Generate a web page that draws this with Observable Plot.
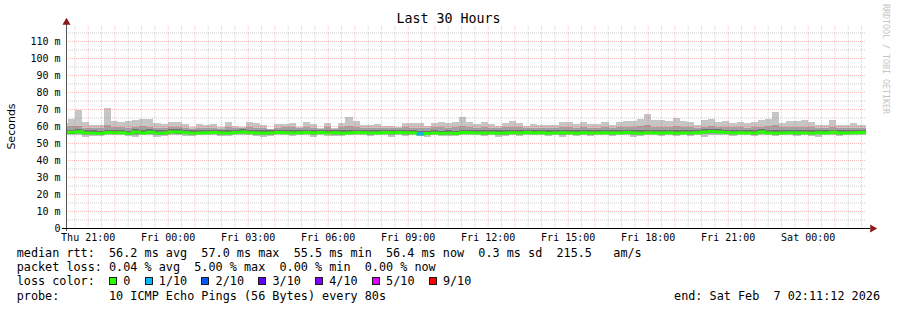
<!DOCTYPE html>
<html>
<head>
<meta charset="utf-8">
<script src="https://cdn.jsdelivr.net/npm/d3@7"></script>
<script src="https://cdn.jsdelivr.net/npm/@observablehq/plot@0.6"></script>
<style>
  html, body { margin: 0; padding: 0; background: #ffffff; }
  #wrap { position: relative; width: 897px; height: 310px; overflow: hidden; background: #ffffff;
          font-family: "DejaVu Sans Mono", monospace; color: #000; }
  #chart { position: absolute; left: 0; top: 0; }
  .abs { position: absolute; white-space: pre; }
  #title { left: 0; width: 897px; text-align: center; top: 12.3px; font-size: 13.3px; line-height: 13.3px; }
  #ylabel { font-family: "DejaVu Sans", sans-serif; font-size: 11px; line-height: 11px; width: 80px; text-align: center;
            left: -29px; top: 121px; transform: rotate(-90deg); }
  #mark { writing-mode: vertical-rl; font-size: 8.3px; line-height: 8.3px; color: #c4c4c4; left: 882px; top: 4px; }
  .leg { left: 16.7px; font-size: 11.8px; line-height: 11.8px; }
  .box { display: inline-block; box-sizing: border-box; width: 8px; height: 8px; border: 1px solid #1a1a1a;
         margin-right: calc(1ch - 8px); vertical-align: baseline; }
  #end { right: 17px; font-size: 11.8px; line-height: 11.8px; top: 290.6px; }
</style>
</head>
<body>
<div id="wrap">
  <div id="chart"></div>
  <div id="title" class="abs"></div>
  <div id="ylabel" class="abs"></div>
  <div id="mark" class="abs"></div>
  <div id="l1" class="abs leg" style="top:247.5px"></div>
  <div id="l2" class="abs leg" style="top:261.8px"></div>
  <div id="l3" class="abs leg" style="top:276px"></div>
  <div id="l4" class="abs leg" style="top:290.6px"></div>
  <div id="end" class="abs"></div>
</div>
<script>
// ---------------- data (ms), one value per 16-minute step, first step starts Thu 20:00 UTC ----------------
const titleText = "Last 30 Hours";
const yLabelText = "Seconds";
const watermark = "RRDTOOL / TOBI OETIKER";
const startTime = "2026-02-05T20:11:12Z";
const endTime = "2026-02-07T02:11:12Z";
const firstStep = "2026-02-05T20:00:00Z";
const stepMinutes = 16;

const maxRtt = [
  62.0, 64.1, 69.4, 62.2, 60.6, 60.6, 70.4, 62.9, 62.2, 62.9,
  63.3, 63.9, 63.9, 61.6, 61.2, 62.4, 62.4, 61.2, 59.2, 61.2,
  60.6, 61.2, 59.2, 62.2, 60.2, 59.6, 62.2, 61.6, 60.6, 58.0,
  61.2, 61.2, 62.0, 59.6, 62.5, 61.2, 58.6, 62.0, 58.6, 62.0,
  65.1, 63.1, 60.6, 60.4, 61.2, 60.0, 60.0, 59.6, 62.0, 61.6,
  62.0, 60.0, 62.0, 62.5, 61.6, 62.5, 65.5, 62.3, 61.2, 62.4,
  61.2, 60.0, 62.0, 63.0, 62.0, 60.0, 61.2, 60.6, 60.6, 60.6,
  62.4, 62.4, 61.2, 62.4, 61.2, 61.2, 62.4, 60.6, 62.4, 63.2,
  63.2, 64.1, 67.1, 63.5, 63.5, 63.2, 64.5, 63.2, 62.4, 60.6,
  63.5, 63.9, 62.5, 63.2, 62.0, 62.5, 61.6, 62.5, 63.5, 63.9,
  68.0, 62.0, 63.0, 63.2, 63.5, 62.5, 60.6, 60.6, 63.5, 60.6,
  60.6, 61.6, 60.6, 60.6
];
const upperRtt = [
  59.2, 59.8, 60.2, 59.0, 58.8, 58.6, 60.4, 59.4, 59.2, 59.0,
  59.6, 59.8, 59.5, 58.8, 59.0, 59.4, 59.2, 58.9, 58.4, 59.0,
  58.8, 59.1, 58.5, 59.3, 58.8, 58.7, 59.2, 59.0, 58.8, 58.0,
  59.0, 59.2, 59.3, 58.7, 59.4, 59.0, 58.4, 59.2, 58.4, 59.3,
  60.0, 59.6, 58.9, 58.8, 59.1, 58.8, 58.7, 58.6, 59.2, 59.1,
  59.0, 58.7, 59.2, 59.3, 59.0, 59.3, 60.0, 59.2, 59.0, 59.3,
  59.0, 58.7, 59.2, 59.4, 59.2, 58.8, 59.0, 58.9, 58.9, 58.8,
  59.3, 59.3, 59.0, 59.2, 59.0, 59.0, 59.3, 58.9, 59.2, 59.5,
  59.5, 59.8, 60.3, 59.5, 59.6, 59.5, 59.8, 59.5, 59.2, 58.8,
  59.6, 59.8, 59.4, 59.5, 59.2, 59.3, 59.0, 59.3, 59.6, 59.8,
  60.5, 59.2, 59.4, 59.5, 59.6, 59.3, 58.8, 58.8, 59.6, 58.8,
  58.8, 59.1, 58.8, 58.8
];
const innerHi = [
  57.9, 57.9, 58.3, 57.6, 57.4, 57.2, 57.9, 57.8, 57.7, 57.3,
  58.2, 57.6, 58.0, 57.4, 57.5, 58.1, 58.0, 57.7, 57.4, 57.6,
  57.7, 57.9, 57.5, 57.4, 57.8, 58.1, 57.7, 57.5, 57.4, 57.5,
  57.8, 57.7, 57.6, 57.7, 57.8, 57.6, 57.8, 57.5, 57.6, 57.4,
  57.8, 57.8, 57.7, 57.5, 57.6, 57.7, 57.6, 57.8, 57.7, 57.6,
  57.2, 57.3, 57.5, 57.2, 57.4, 57.3, 57.9, 57.7, 57.6, 57.5,
  57.6, 57.4, 57.6, 57.7, 57.5, 57.8, 57.6, 57.7, 57.4, 57.6,
  57.7, 57.6, 57.4, 57.7, 57.5, 57.6, 57.7, 57.5, 57.6, 57.8,
  57.6, 57.5, 57.8, 57.6, 57.5, 57.7, 57.5, 57.6, 57.5, 57.6,
  58.0, 58.4, 58.1, 57.8, 57.5, 57.7, 57.6, 57.5, 58.0, 57.6,
  57.5, 57.6, 57.7, 57.5, 57.6, 57.4, 57.6, 57.6, 57.9, 57.5,
  57.6, 57.7, 57.8, 57.8
];
const medianRtt = [
  56.6, 56.6, 56.9, 56.2, 56.0, 55.8, 56.4, 56.3, 56.3, 55.9,
  56.8, 56.2, 56.6, 56.0, 56.1, 56.7, 56.7, 56.3, 56.0, 56.2,
  56.3, 56.5, 56.1, 56.0, 56.4, 56.8, 56.3, 56.1, 56.0, 56.2,
  56.4, 56.3, 56.2, 56.3, 56.4, 56.2, 56.5, 56.1, 56.3, 56.0,
  56.2, 56.4, 56.3, 56.1, 56.2, 56.4, 56.3, 56.5, 56.3, 56.2,
  55.6, 55.9, 56.1, 55.8, 56.0, 55.9, 56.4, 56.3, 56.2, 56.1,
  56.2, 56.0, 56.2, 56.3, 56.1, 56.4, 56.2, 56.3, 56.0, 56.2,
  56.3, 56.2, 56.0, 56.3, 56.1, 56.2, 56.3, 56.1, 56.2, 56.4,
  56.2, 56.0, 56.3, 56.2, 56.1, 56.3, 56.0, 56.2, 56.1, 56.3,
  56.7, 57.0, 56.8, 56.4, 56.1, 56.3, 56.2, 56.1, 56.7, 56.2,
  56.0, 56.2, 56.3, 56.1, 56.2, 56.0, 56.3, 56.2, 56.6, 56.1,
  56.2, 56.3, 56.4, 56.4
];
const innerLo = [
  55.5, 55.4, 55.6, 55.2, 55.3, 55.1, 55.4, 55.4, 55.5, 55.2,
  55.3, 55.4, 55.5, 55.2, 55.3, 55.6, 55.5, 55.4, 55.3, 55.4,
  55.4, 55.5, 55.3, 55.3, 55.5, 55.6, 55.4, 55.3, 55.2, 55.3,
  55.4, 55.5, 55.3, 55.5, 55.4, 55.3, 55.5, 55.4, 55.2, 55.3,
  55.4, 55.5, 55.4, 55.3, 55.4, 55.5, 55.2, 55.5, 55.3, 55.4,
  55.0, 55.2, 55.4, 55.2, 55.3, 55.2, 55.5, 55.4, 55.4, 55.3,
  55.4, 55.2, 55.3, 55.5, 55.3, 55.4, 55.4, 55.5, 55.2, 55.4,
  55.3, 55.4, 55.3, 55.5, 55.3, 55.4, 55.5, 55.3, 55.4, 55.5,
  55.3, 55.3, 55.4, 55.4, 55.3, 55.4, 55.2, 55.4, 55.3, 55.4,
  55.6, 55.8, 55.6, 55.4, 55.3, 55.4, 55.4, 55.3, 55.6, 55.4,
  55.3, 55.4, 55.5, 55.3, 55.4, 55.2, 55.4, 55.4, 55.6, 55.3,
  55.4, 55.4, 55.5, 55.5
];
const lowerRtt = [
  55.1, 55.0, 55.2, 54.8, 55.0, 54.9, 55.0, 55.1, 55.0, 54.9,
  54.8, 55.0, 55.1, 54.8, 54.9, 55.2, 55.1, 55.0, 54.9, 55.0,
  55.0, 55.1, 54.9, 55.0, 55.1, 55.2, 55.0, 54.9, 54.8, 54.9,
  55.0, 55.1, 55.0, 55.1, 55.0, 54.9, 55.1, 55.0, 54.8, 54.9,
  55.0, 55.1, 55.0, 54.9, 55.0, 55.1, 54.8, 55.1, 54.9, 55.0,
  54.6, 54.8, 55.0, 54.8, 54.9, 54.8, 55.1, 55.0, 55.0, 54.9,
  55.0, 54.8, 54.9, 55.1, 54.9, 55.0, 55.0, 55.1, 54.8, 55.0,
  54.9, 55.0, 54.9, 55.1, 54.9, 55.0, 55.1, 54.9, 55.0, 55.1,
  54.9, 54.9, 55.0, 55.0, 54.9, 55.0, 54.8, 55.0, 54.9, 55.0,
  55.0, 55.3, 55.2, 55.0, 54.9, 55.0, 55.0, 54.9, 55.2, 55.0,
  54.9, 55.0, 55.1, 54.9, 55.0, 54.8, 55.0, 55.0, 55.2, 54.9,
  55.0, 55.0, 55.1, 55.1
];
const minRtt = [
  54.6, 54.5, 54.7, 53.6, 54.4, 54.3, 54.5, 54.6, 54.5, 54.2,
  53.7, 54.5, 54.6, 53.8, 54.4, 54.6, 54.5, 54.4, 54.3, 54.5,
  54.5, 54.6, 54.3, 54.4, 54.6, 54.7, 54.5, 54.3, 53.7, 54.3,
  54.5, 54.6, 54.4, 54.6, 54.5, 53.8, 54.6, 54.4, 54.2, 54.3,
  54.5, 54.6, 54.5, 54.3, 54.5, 54.6, 53.7, 54.6, 54.4, 54.5,
  54.0, 53.8, 54.5, 54.2, 54.4, 54.2, 54.6, 54.5, 54.5, 54.4,
  54.5, 53.7, 54.3, 54.6, 54.4, 54.5, 54.5, 54.6, 54.2, 54.5,
  53.8, 54.5, 54.4, 54.6, 54.4, 54.5, 54.6, 54.3, 54.5, 54.6,
  53.8, 54.3, 54.5, 54.5, 54.4, 54.5, 54.2, 54.5, 54.3, 54.5,
  53.8, 54.7, 54.6, 54.5, 54.3, 54.5, 54.5, 54.2, 54.6, 54.5,
  54.4, 54.5, 54.6, 54.4, 54.5, 54.2, 53.7, 54.5, 54.6, 54.4,
  54.5, 54.5, 54.6, 54.6
];
// packet loss (lost pings out of 10) for steps that had any loss
const lossStepIndex = [50];
const lossStepValue = [0.5];

const lossLabels = ["0", "1/10", "2/10", "3/10", "4/10", "5/10", "9/10"];
const lossLevels = [0, 1, 2, 3, 4, 5, 9];
const lossColors = ["#26ff00", "#00b8ff", "#0059ff", "#5e00ff", "#7e00ff", "#dd00ff", "#ff0000"];

const yTicks = [0, 10, 20, 30, 40, 50, 60, 70, 80, 90, 100, 110];
const yMinor = [5, 15, 25, 35, 45, 55, 65, 75, 85, 95, 105, 115];
const yMax = 118.8;
const xTickTimes = ["2026-02-05T21:00:00Z", "2026-02-06T00:00:00Z", "2026-02-06T03:00:00Z", "2026-02-06T06:00:00Z",
  "2026-02-06T09:00:00Z", "2026-02-06T12:00:00Z", "2026-02-06T15:00:00Z", "2026-02-06T18:00:00Z",
  "2026-02-06T21:00:00Z", "2026-02-07T00:00:00Z"];
const xTickLabels = ["Thu 21:00", "Fri 00:00", "Fri 03:00", "Fri 06:00", "Fri 09:00", "Fri 12:00",
  "Fri 15:00", "Fri 18:00", "Fri 21:00", "Sat 00:00"];

const statsLine1 = "median rtt:  56.2 ms avg  57.0 ms max  55.5 ms min  56.4 ms now  0.3 ms sd  215.5   am/s";
const statsLine2 = "packet loss: 0.04 % avg  5.00 % max  0.00 % min  0.00 % now";
const lossColorLabel = "loss color:  ";
const probeLine = "probe:       10 ICMP Echo Pings (56 Bytes) every 80s";
const endLine = "end: Sat Feb  7 02:11:12 2026";

// ---------------- build ----------------
const t0 = new Date(startTime), t1 = new Date(endTime);
const s0 = new Date(firstStep).getTime();
const stepMs = stepMinutes * 60000;
const lossOf = k => { const i = lossStepIndex.indexOf(k); return i < 0 ? 0 : lossStepValue[i]; };
const lossColor = v => { for (let i = 0; i < lossLevels.length; i++) if (v <= lossLevels[i]) return lossColors[i]; return lossColors[lossColors.length - 1]; };

const rows = maxRtt.map((mx, k) => ({
  x1: new Date(s0 + k * stepMs), x2: new Date(s0 + (k + 1) * stepMs),
  max: mx, hi: upperRtt[k], ihi: innerHi[k], med: medianRtt[k], ilo: innerLo[k], lo: lowerRtt[k], min: minRtt[k],
  loss: lossOf(k)
}));
const medPts = rows.map(r => ({x: r.x1, y: r.med})).concat([{x: rows[rows.length - 1].x2, y: rows[rows.length - 1].med}]);

const hours = d3.utcHour.range(d3.utcHour.ceil(t0), t1);
const halfHours = d3.utcMinute.every(30).range(t0, t1).filter(d => d.getUTCMinutes() === 30);
const xTicks = xTickTimes.map(s => new Date(s));
const xFmt = d => { const i = xTicks.findIndex(t => +t === +d); return i < 0 ? "" : xTickLabels[i]; };

const minorGrid = "rgba(128,128,128,0.38)";
const majorGrid = "rgba(255,70,70,0.36)";
const arrowColor = "#8c1c1c";

const chart = Plot.plot({
  width: 897, height: 250,
  marginLeft: 66, marginRight: 31, marginTop: 26, marginBottom: 22,
  style: {fontFamily: '"DejaVu Sans Mono", monospace', fontSize: "10px", color: "#000", background: "transparent"},
  x: {type: "utc", domain: [t0, t1]},
  y: {domain: [0, yMax]},
  marks: [
    Plot.rect(rows, {x1: "x1", x2: "x2", y1: "min", y2: "max", fill: "#c6c6c6", clip: true, shapeRendering: "crispEdges"}),
    Plot.rect(rows, {x1: "x1", x2: "x2", y1: "lo", y2: "hi", fill: "#a2a2a2", clip: true, shapeRendering: "crispEdges"}),
    Plot.rect(rows, {x1: "x1", x2: "x2", y1: "ilo", y2: "ihi", fill: "#727272", clip: true, shapeRendering: "crispEdges"}),
    Plot.line(medPts, {x: "x", y: "y", curve: "step-after", stroke: lossColors[0], strokeWidth: 3, clip: true}),
    Plot.ruleY(rows.filter(r => r.loss > 0), {x1: "x1", x2: "x2", y: "med", stroke: r => lossColor(r.loss), strokeWidth: 3, clip: true}),
    Plot.ruleY(yMinor, {stroke: minorGrid, strokeDasharray: "1,1"}),
    Plot.ruleY(yTicks.filter(d => d > 0), {stroke: majorGrid, strokeDasharray: "1,1"}),
    Plot.ruleX(halfHours, {stroke: minorGrid, strokeDasharray: "1,1"}),
    Plot.ruleX(hours, {stroke: majorGrid, strokeDasharray: "1,1"}),
    Plot.axisY(yTicks, {tickFormat: d => d === 0 ? "0" : d + " m", tickSize: 0, tickPadding: 6, label: null, fill: "#000"}),
    Plot.axisX(xTicks, {tickFormat: xFmt, tickSize: 0, tickPadding: 5, label: null, fill: "#000"}),
    Plot.ruleX([t0], {stroke: "#555", insetTop: -4, insetBottom: -3}),
    Plot.ruleY([0], {stroke: "#000", insetLeft: -4, insetRight: -4}),
    Plot.dot([{x: t0, y: yMax}], {x: "x", y: "y", dy: -4, symbol: "triangle", r: 3, fill: arrowColor, stroke: null}),
    Plot.dot([{x: t1, y: 0}], {x: "x", y: "y", dx: 6, symbol: "triangle", rotate: 90, r: 3, fill: arrowColor, stroke: null})
  ]
});
document.getElementById("chart").appendChild(chart);

// ---------------- texts ----------------
document.getElementById("title").textContent = titleText;
document.getElementById("ylabel").textContent = yLabelText;
document.getElementById("mark").textContent = watermark;
document.getElementById("l1").textContent = statsLine1;
document.getElementById("l2").textContent = statsLine2;
const l3 = document.getElementById("l3");
l3.appendChild(document.createTextNode(lossColorLabel));
lossLabels.forEach((lab, i) => {
  const b = document.createElement("span");
  b.className = "box";
  b.style.background = lossColors[i];
  l3.appendChild(b);
  l3.appendChild(document.createTextNode(" " + lab + (i < lossLabels.length - 1 ? "  " : "")));
});
document.getElementById("l4").textContent = probeLine;
document.getElementById("end").textContent = endLine;
</script>
</body>
</html>
